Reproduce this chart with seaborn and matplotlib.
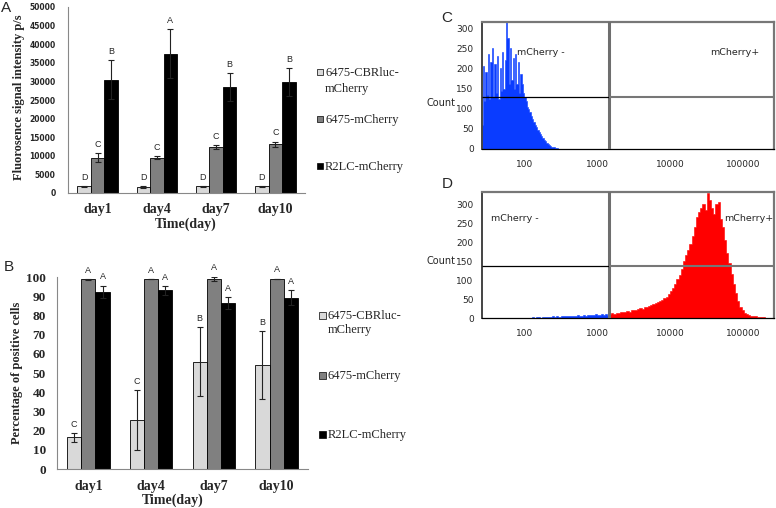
"""Fluorescence / positive-cell bar charts (A, B) and flow histograms (C, D)."""
import matplotlib
matplotlib.use("Agg")
import matplotlib.pyplot as plt
import matplotlib.ticker as mticker
from matplotlib.patches import Rectangle
import numpy as np
import pandas as pd
import seaborn as sns

# ── data ──────────────────────────────────────────────────────────────────────
days   = ["day1", "day4", "day7", "day10"]
groups = ["6475-CBRluc-mCherry", "6475-mCherry", "R2LC-mCherry"]
legend_labels = ["6475-CBRluc-\nmCherry", "6475-mCherry", "R2LC-mCherry"]

# A: fluorescence signal intensity (p/s)
a_cbrluc   = [1800, 1600, 1800, 1800]
a_mcherry  = [9500, 9500, 12300, 13100]
a_r2lc     = [30500, 37500, 28500, 29800]
a_cbrluc_err  = [150, 150, 100, 100]
a_mcherry_err = [1200, 450, 500, 700]
a_r2lc_err    = [5300, 6500, 3800, 3700]
a_letters = [["D", "D", "D", "D"], ["C", "C", "C", "C"], ["B", "A", "B", "B"]]

# B: percentage of positive cells
b_cbrluc   = [16.5, 25.4, 55.8, 54.2]
b_mcherry  = [98.8, 99.0, 99.0, 99.1]
b_r2lc     = [92.4, 93.0, 86.6, 89.2]
b_cbrluc_err  = [2.4, 15.5, 18.0, 17.7]
b_mcherry_err = [0.2, 0.1, 1.2, 0.1]
b_r2lc_err    = [3.1, 2.2, 3.1, 4.0]
b_letters = [["C", "C", "B", "B"], ["A", "A", "A", "A"], ["A", "A", "A", "A"]]

# C: mCherry- control histogram (counts per log-spaced channel, 25.5 .. 300)
c_blue_range = (25.5, 300)
c_blue = [60, 205, 120, 190, 135, 235, 125, 215, 250, 130, 210, 140, 230, 125,
          200, 145, 240, 150, 220, 315, 275, 160, 250, 170, 225, 150, 235, 160,
          215, 140, 185, 160, 140, 130, 120, 105, 100, 92, 82, 75, 68, 60, 54,
          47, 42, 37, 32, 27, 23, 19, 16, 13, 10, 8, 6, 5, 4, 3, 2, 1]

# D: mCherry+ histogram, negative part (blue) and positive part (red)
d_blue_range = (112, 1450)
d_blue = [1, 1, 2, 1, 2, 2, 1, 3, 2, 3, 2, 3, 4, 3, 4, 3, 5, 4, 5, 4, 6, 5, 5,
          6, 7, 5, 6, 8, 6, 7, 9, 7, 8, 10, 8, 9, 11, 9, 10, 8]
d_red_range = (1450, 251000)
d_red = [10, 12, 11, 14, 13, 15, 16, 15, 18, 17, 20, 22, 21, 24, 26, 25, 28,
         30, 32, 34, 36, 40, 42, 46, 48, 52, 55, 62, 70, 78, 90, 102, 112, 130,
         150, 165, 178, 195, 215, 240, 265, 280, 290, 300, 285, 330, 310, 290,
         275, 300, 305, 260, 240, 205, 170, 145, 115, 90, 65, 45, 30, 20, 14,
         10, 7, 6, 5, 4, 3, 3, 2, 2, 1, 1, 0]

gate_x = 1450          # mCherry- / mCherry+ boundary
c_gate_y = 129
d_gate_y = 137

bar_colors = ["#d9d9d9", "#808080", "#000000"]
blue = "#0a3cff"
red = "#ff0000"

# ── style ─────────────────────────────────────────────────────────────────────
sns.set_style("white")
plt.rcParams["font.family"] = ["DejaVu Sans"]
SERIF = "Liberation Serif"

W, H = 776, 508
fig = plt.figure(figsize=(W / 100, H / 100), dpi=100)


def box(l, t, r, b):
    return [l / W, 1 - b / H, (r - l) / W, (b - t) / H]


def long_df(series):
    rows = []
    for g, vals in zip(groups, series):
        for d, v in zip(days, vals):
            rows.append({"day": d, "group": g, "value": v})
    return pd.DataFrame(rows)


def bar_panel(ax, means, errs, letters, ylim, ystep, yfont, ypad, ylabel,
              tickpad, xlab_xy, ylab_xy):
    sns.barplot(data=long_df(means), x="day", y="value", hue="group",
                order=days, hue_order=groups, palette=bar_colors,
                saturation=1, width=0.68, edgecolor="black", linewidth=0.6,
                errorbar=None, legend=False, ax=ax)
    for cont, vals, ers, lets in zip(ax.containers, means, errs, letters):
        for bar, v, e, l in zip(cont, vals, ers, lets):
            xc = bar.get_x() + bar.get_width() / 2
            ax.errorbar(xc, v, yerr=e, fmt="none", ecolor="#222222",
                        elinewidth=0.8, capsize=2.2, capthick=0.8, zorder=5)
            ax.annotate(l, (xc, v + e), xytext=(0, 3),
                        textcoords="offset points", ha="center", va="bottom",
                        fontsize=6.5, family="Liberation Sans")
    ax.set_xlim(-0.5, 3.5)
    ax.set_ylim(*ylim)
    ax.set_yticks(np.arange(ylim[0], ylim[1] + 1, ystep))
    ax.set_xticks(range(4))
    ax.set_xticks(np.arange(-0.5, 4, 1), minor=True)
    ax.tick_params(axis="x", which="major", length=0, pad=tickpad)
    ax.tick_params(axis="x", which="minor", length=5, color="#888888",
                   width=0.8, direction="out")
    ax.tick_params(axis="y", length=3, color="#888888", width=0.8,
                   direction="out", pad=ypad)
    for lab in ax.get_xticklabels():
        lab.set_fontfamily(SERIF)
        lab.set_fontweight("bold")
        lab.set_fontsize(10)
    for lab in ax.get_yticklabels():
        lab.set_fontproperties(yfont)
    for s in ["top", "right"]:
        ax.spines[s].set_visible(False)
    for s in ["left", "bottom"]:
        ax.spines[s].set_color("#888888")
        ax.spines[s].set_linewidth(0.8)
    ax.set_xlabel("Time(day)", family=SERIF, fontweight="bold", fontsize=10)
    ax.set_ylabel(ylabel, family=SERIF, fontweight="bold", fontsize=9)
    ax.xaxis.set_label_coords(*xlab_xy)
    ax.yaxis.set_label_coords(*ylab_xy)


def bar_legend(x0, size, rows_y, linespacing):
    # Excel-style legend: small square key aligned with the first text line
    for lab, c, y in zip(legend_labels, bar_colors, rows_y):
        fig.add_artist(Rectangle((x0 / W, 1 - (y + size / 2) / H),
                                 size / W, size / H,
                                 transform=fig.transFigure, facecolor=c,
                                 edgecolor="black", linewidth=0.5))
        fig.text((x0 + size + 2) / W, 1 - (y - 5) / H, lab, family=SERIF,
                 fontsize=9, ha="left", va="top", linespacing=linespacing)


# ── A ─────────────────────────────────────────────────────────────────────────
axA = fig.add_axes(box(68, 7, 305, 193))
bar_panel(axA, [a_cbrluc, a_mcherry, a_r2lc],
          [a_cbrluc_err, a_mcherry_err, a_r2lc_err], a_letters,
          (0, 50000), 5000,
          {"family": "DejaVu Sans", "weight": "bold", "size": 5.5}, 6,
          "Fluorosence signal intensity p/s", 7,
          (0.496, -0.13), (-0.18, 0.516))
bar_legend(317, 6, [72, 119, 166], 1.45)

# ── B ─────────────────────────────────────────────────────────────────────────
axB = fig.add_axes(box(57, 277, 308, 469))
bar_panel(axB, [b_cbrluc, b_mcherry, b_r2lc],
          [b_cbrluc_err, b_mcherry_err, b_r2lc_err], b_letters,
          (0, 100), 10,
          {"family": SERIF, "weight": "bold", "size": 9.5}, 5,
          "Percentage of positive cells", 8,
          (0.46, -0.13), (-0.135, 0.5))
bar_legend(319, 7, [315, 375, 434], 1.2)


# ── C / D flow histograms ─────────────────────────────────────────────────────
def flow_hist(ax, counts, rng, color):
    edges = np.linspace(np.log10(rng[0]), np.log10(rng[1]), len(counts) + 1)
    centers = 10 ** ((edges[:-1] + edges[1:]) / 2)
    sns.histplot(x=centers, weights=np.asarray(counts, float),
                 bins=list(edges), log_scale=True,
                 element="step", fill=True, color=color, alpha=1,
                 linewidth=0.4, ax=ax)


def flow_axes(ax, ymax, gate_y, count_y, neg_xy, pos_xy):
    ax.set_xlim(26, 268000)
    ax.set_ylim(0, ymax)
    ax.axvline(gate_x, color="#6e6e6e", lw=2.2, zorder=6)
    ax.hlines(gate_y, 26, gate_x, color="black", lw=0.9, zorder=6)
    ax.hlines(gate_y, gate_x, 268000, color="#777777", lw=1.5, zorder=6)
    ax.set_xticks([100, 1000, 10000, 100000])
    ax.xaxis.set_major_formatter(mticker.FuncFormatter(lambda v, p: f"{v:.0f}"))
    ax.xaxis.set_minor_locator(mticker.LogLocator(base=10, subs=np.arange(2, 10)))
    ax.xaxis.set_minor_formatter(mticker.NullFormatter())
    ax.set_yticks(np.arange(0, 301, 50))
    ax.yaxis.set_minor_locator(mticker.MultipleLocator(10))
    ax.tick_params(axis="both", which="major", length=4, width=0.8,
                   labelsize=6.5, pad=2, direction="out", color="#333333")
    ax.tick_params(axis="both", which="minor", length=2, width=0.6,
                   direction="out", color="#333333")
    ax.tick_params(axis="x", which="major", pad=4)
    for s in ["top", "right"]:
        ax.spines[s].set_color("#777777")
        ax.spines[s].set_linewidth(1.6)
    ax.spines["left"].set_color("#444444")
    ax.spines["left"].set_linewidth(1.4)
    ax.spines["bottom"].set_color("black")
    ax.spines["bottom"].set_linewidth(0.9)
    ax.set_ylabel("Count", rotation=0, fontsize=7, ha="center", va="center")
    ax.yaxis.set_label_coords(-0.14, count_y)
    ax.set_xlabel("")
    ax.text(*neg_xy, "mCherry -", transform=ax.transAxes, fontsize=6.8,
            ha="center", va="center")
    ax.text(*pos_xy, "mCherry+", transform=ax.transAxes, fontsize=6.8,
            ha="center", va="center")


axC = fig.add_axes(box(482, 22, 774, 149))
flow_hist(axC, c_blue, c_blue_range, blue)
flow_axes(axC, 315, c_gate_y, 0.36, (0.202, 0.756), (0.866, 0.756))

axD = fig.add_axes(box(482, 192, 774, 318))
flow_hist(axD, d_blue, d_blue_range, blue)
flow_hist(axD, d_red, d_red_range, red)
flow_axes(axD, 332, d_gate_y, 0.45, (0.113, 0.79), (0.914, 0.79))

# panel letters
for txt, x, y in [("A", 6, 8), ("B", 8.5, 267), ("C", 447, 17.5), ("D", 447, 184)]:
    fig.text(x / W, 1 - y / H, txt, fontsize=11, ha="center", va="center",
             family="Liberation Sans")

fig.savefig("out.png", dpi=100)
